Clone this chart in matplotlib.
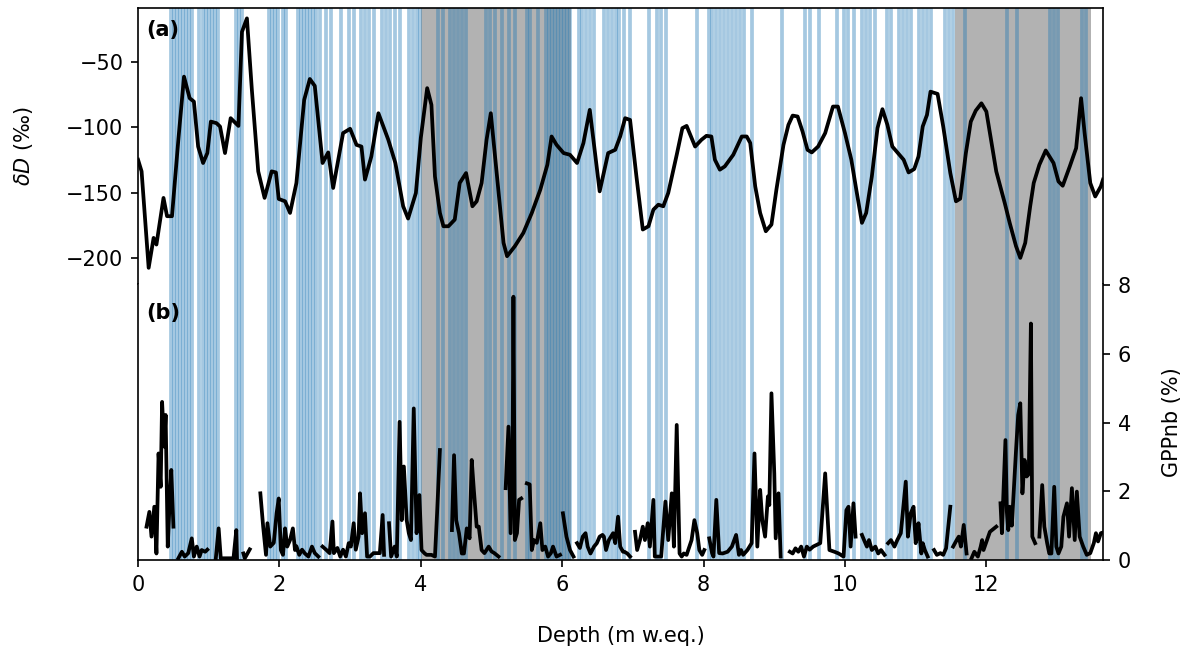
import numpy as np
import matplotlib.pyplot as plt

# panel (a): dD record
depth_a = [0.00, 0.05, 0.15, 0.22, 0.26, 0.36, 0.41, 0.48, 0.57, 0.65, 0.73, 0.79, 0.85, 0.92, 0.98,
           1.03, 1.11, 1.16, 1.23, 1.31, 1.42, 1.47, 1.54, 1.61, 1.70, 1.79, 1.89, 1.95, 1.99, 2.08,
           2.15, 2.24, 2.35, 2.43, 2.50, 2.61, 2.69, 2.76, 2.90, 3.00, 3.09, 3.16, 3.21, 3.30, 3.40,
           3.54, 3.64, 3.75, 3.82, 3.93, 4.00, 4.09, 4.15, 4.20, 4.27, 4.32, 4.39, 4.48, 4.55, 4.64,
           4.73, 4.79, 4.86, 4.93, 4.99, 5.05, 5.17, 5.22, 5.33, 5.45, 5.57, 5.69, 5.79, 5.85, 5.92,
           6.02, 6.11, 6.21, 6.30, 6.39, 6.53, 6.65, 6.75, 6.82, 6.89, 6.96, 7.05, 7.14, 7.22, 7.29,
           7.36, 7.43, 7.50, 7.62, 7.70, 7.76, 7.88, 7.97, 8.04, 8.11, 8.16, 8.23, 8.30, 8.42, 8.54,
           8.61, 8.66, 8.73, 8.80, 8.88, 8.96, 9.03, 9.13, 9.20, 9.26, 9.33, 9.40, 9.47, 9.53, 9.62,
           9.72, 9.83, 9.90, 10.00, 10.09, 10.16, 10.24, 10.30, 10.38, 10.46, 10.53, 10.60, 10.67,
           10.75, 10.83, 10.90, 10.98, 11.04, 11.10, 11.16, 11.21, 11.31, 11.39, 11.49, 11.57, 11.63,
           11.71, 11.78, 11.85, 11.93, 12.00, 12.14, 12.26, 12.33, 12.42, 12.48, 12.55, 12.62, 12.67,
           12.75, 12.84, 12.95, 13.02, 13.08, 13.18, 13.27, 13.34, 13.39, 13.47, 13.54, 13.62, 13.65]
dD = [-124.8, -133.7, -207.5, -184.6, -189.7, -154.0, -168.0, -168.0, -109.5, -61.2, -77.7, -80.3,
      -114.7, -127.3, -119.7, -95.6, -96.8, -99.4, -119.7, -93.0, -98.9, -26.9, -16.6, -71.4, -133.7,
      -154.0, -133.7, -134.5, -154.8, -156.6, -165.5, -142.6, -79.0, -63.0, -68.3, -127.3, -119.2,
      -146.4, -104.4, -101.1, -113.4, -114.7, -140.0, -122.3, -89.2, -109.5, -127.3, -160.4, -169.8,
      -150.3, -108.0, -70.0, -82.8, -137.6, -165.5, -175.7, -175.7, -170.6, -142.6, -135.0, -160.4,
      -156.6, -142.6, -109.5, -89.2, -122.3, -188.4, -198.6, -191.0, -180.8, -165.5, -147.7, -128.6,
      -107.0, -113.4, -119.7, -121.0, -127.3, -112.0, -86.6, -149.0, -119.7, -117.2, -107.0, -93.0,
      -94.3, -137.6, -178.2, -175.7, -163.0, -159.2, -160.4, -150.2, -121.0, -100.6, -98.9, -114.7,
      -109.5, -106.5, -107.0, -124.8, -132.4, -129.9, -121.0, -107.0, -107.0, -112.0, -145.1, -165.5,
      -179.5, -174.4, -147.7, -113.4, -98.1, -91.0, -91.7, -103.2, -117.2, -119.2, -114.7, -104.4,
      -84.1, -84.1, -104.4, -124.8, -147.7, -173.1, -165.5, -137.6, -100.6, -86.1, -98.1, -114.7,
      -119.7, -124.8, -134.5, -131.9, -122.3, -99.3, -90.5, -72.7, -74.4, -99.4, -134.9, -156.6,
      -154.6, -119.7, -95.6, -87.2, -81.6, -87.9, -133.7, -157.9, -173.1, -191.0, -199.9, -188.4,
      -160.4, -142.6, -128.6, -117.7, -127.3, -141.4, -144.7, -129.9, -115.9, -77.7, -104.4, -142.6,
      -152.9, -145.1, -140.0]

# panel (b): GPPnb, gaps are missing samples
nan = np.nan
depth_b = [0.12, 0.16, 0.19, 0.23, 0.26, 0.29, 0.32, 0.34, 0.37, 0.39, 0.42, 0.44, 0.47, 0.50, 0.53,
           0.57, 0.62, 0.66, 0.71, 0.76, 0.79, 0.83, 0.87, 0.90, 0.95, 0.98, 1.04,
           1.10, 1.14, 1.17, 1.23, 1.30, 1.35, 1.39, 1.40, 1.45,
           1.49, 1.51, 1.58, 1.65,
           1.73, 1.77, 1.81, 1.83, 1.87, 1.92, 1.96, 1.99, 2.02, 2.05, 2.08, 2.11, 2.15, 2.19, 2.22,
           2.24, 2.28, 2.32, 2.36, 2.41, 2.46, 2.50, 2.55, 2.58,
           2.61, 2.66, 2.71, 2.75, 2.77, 2.82, 2.86, 2.90, 2.94, 2.98, 3.01, 3.05, 3.08, 3.12, 3.14,
           3.17, 3.21, 3.24, 3.28, 3.33, 3.37, 3.42, 3.46, 3.48, 3.52,
           3.55, 3.58, 3.63, 3.66, 3.70, 3.73, 3.76, 3.80, 3.83, 3.86, 3.90, 3.94, 3.98, 4.01, 4.05,
           4.08, 4.15, 4.20, 4.23, 4.27, 4.35,
           4.44, 4.47, 4.50, 4.54, 4.58, 4.61, 4.65, 4.69, 4.72, 4.75, 4.79, 4.82, 4.86, 4.90, 4.96,
           5.00, 5.04, 5.10, 5.15,
           5.20, 5.24, 5.27, 5.30, 5.31, 5.33, 5.36, 5.39, 5.42, 5.46,
           5.50, 5.54, 5.57, 5.60, 5.64, 5.69, 5.72, 5.76, 5.80, 5.84, 5.87, 5.92, 5.97, 5.99,
           6.01, 6.06, 6.11, 6.16, 6.18,
           6.21, 6.25, 6.29, 6.33, 6.36, 6.40, 6.45, 6.49, 6.53, 6.57, 6.59, 6.62, 6.66, 6.72, 6.75,
           6.79, 6.82, 6.86, 6.88, 6.92, 6.96, 7.00,
           7.03, 7.06, 7.10, 7.14, 7.17, 7.21, 7.24, 7.29, 7.31, 7.40, 7.46, 7.50, 7.55, 7.58, 7.62,
           7.66, 7.69, 7.72, 7.76, 7.83, 7.87, 7.91, 7.94, 7.98, 8.01, 8.05,
           8.08, 8.12, 8.14, 8.18, 8.22, 8.27, 8.34, 8.40, 8.46, 8.50, 8.53, 8.56, 8.62, 8.68, 8.72,
           8.76, 8.80, 8.83, 8.87, 8.91, 8.93, 8.96, 9.00, 9.02, 9.06, 9.09, 9.15,
           9.22, 9.26, 9.30, 9.34, 9.38, 9.42, 9.46, 9.50, 9.55, 9.65, 9.72, 9.78, 9.85, 9.91, 9.98,
           10.02, 10.05, 10.08, 10.12, 10.15, 10.20,
           10.24, 10.27, 10.31, 10.34, 10.38, 10.43, 10.47, 10.51, 10.56, 10.58,
           10.61, 10.65, 10.70, 10.74, 10.79, 10.86, 10.89, 10.93, 10.97, 11.00, 11.02, 11.04, 11.08,
           11.10, 11.13, 11.17, 11.22,
           11.26, 11.30, 11.35, 11.39, 11.43, 11.49, 11.51,
           11.53, 11.58, 11.61, 11.64, 11.68, 11.72, 11.75,
           11.79, 11.83, 11.88, 11.92, 11.94, 11.96, 12.01, 12.05, 12.14, 12.17,
           12.20, 12.22, 12.27, 12.29, 12.31, 12.33, 12.36, 12.42, 12.45, 12.48, 12.51, 12.54, 12.57,
           12.60, 12.63, 12.65, 12.69, 12.72,
           12.75, 12.79, 12.82, 12.86, 12.89, 12.92, 12.96, 12.99, 13.02, 13.06, 13.09, 13.14, 13.17,
           13.21, 13.25, 13.28, 13.32, 13.37, 13.42, 13.47, 13.52, 13.55, 13.58, 13.62, 13.65]
gpp = [0.97, 1.40, 0.68, 1.55, 0.19, 3.10, 2.13, 4.60, 3.30, 4.22, 0.39, 1.36, 2.62, 0.97, nan,
       0.05, 0.24, 0.10, 0.20, 0.63, 0.10, 0.39, 0.10, 0.29, 0.24, 0.30, nan,
       0.05, 0.92, 0.05, 0.05, 0.05, 0.05, 0.87, 0.05, nan,
       0.19, 0.05, 0.31, nan,
       1.94, 0.97, 0.15, 1.07, 0.39, 0.50, 1.36, 1.79, 0.29, 0.15, 0.92, 0.39, 0.58, 0.92, 0.29,
       0.40, 0.15, 0.30, 0.19, 0.10, 0.39, 0.20, 0.10, nan,
       0.39, 0.30, 0.20, 1.12, 0.20, 0.35, 0.10, 0.30, 0.10, 0.49, 0.39, 1.07, 0.30, 0.68, 1.94,
       0.78, 1.36, 0.10, 0.10, 0.20, 0.20, 0.20, 1.31, 0.15, nan,
       1.07, 0.10, 0.39, 0.10, 4.02, 1.16, 2.72, 1.16, 0.78, 0.58, 4.41, 0.78, 1.89, 0.29, 0.20,
       0.15, 0.15, 0.10, 1.36, 3.20, nan,
       0.87, 3.05, 1.16, 0.78, 0.19, 0.19, 0.92, 0.63, 2.91, 2.04, 0.97, 0.97, 0.29, 0.20, 0.39,
       0.25, 0.20, 0.10, nan,
       2.09, 3.88, 0.78, 3.80, 7.66, 0.58, 0.78, 1.75, 1.79, nan,
       2.23, 2.20, 0.29, 0.58, 0.50, 1.07, 0.29, 0.39, 0.10, 0.20, 0.39, 0.10, 0.15, nan,
       1.36, 0.68, 0.29, 0.10, nan,
       0.49, 0.35, 0.68, 0.78, 0.39, 0.19, 0.39, 0.49, 0.68, 0.73, 0.68, 0.29, 0.58, 0.78, 0.49,
       1.26, 0.39, 0.24, 0.24, 0.19, 0.10, nan,
       0.82, 0.29, 0.58, 0.97, 0.58, 1.07, 0.39, 1.75, 0.10, 0.10, 1.70, 0.58, 1.94, 0.39, 3.93,
       0.19, 0.10, 0.19, 0.15, 0.58, 1.16, 0.78, 0.29, 0.15, 0.29, nan,
       0.63, 0.20, 0.10, 1.75, 0.20, 0.19, 0.24, 0.39, 0.73, 0.15, 0.29, 0.15, 0.29, 0.49, 3.10,
       0.39, 2.04, 1.16, 0.68, 1.85, 1.60, 4.85, 2.52, 0.63, 1.94, 0.10, nan,
       0.24, 0.19, 0.34, 0.24, 0.39, 0.10, 0.39, 0.30, 0.39, 0.49, 2.52, 0.29, 0.24, 0.19, 0.10,
       1.45, 1.55, 0.39, 1.65, 0.68, nan,
       0.73, 0.58, 0.39, 0.58, 0.29, 0.39, 0.19, 0.29, 0.15, nan,
       0.49, 0.58, 0.39, 0.58, 0.78, 2.28, 0.68, 1.36, 1.55, 0.49, 0.68, 1.07, 0.19,
       0.49, 0.29, 0.10, nan,
       0.29, 0.15, 0.20, 0.15, 0.34, 1.55, nan,
       0.39, 0.58, 0.68, 0.39, 1.02, 0.19, nan,
       0.05, 0.24, 0.10, 0.39, 0.58, 0.29, 0.58, 0.82, 0.97, nan,
       1.65, 0.78, 3.49, 1.40, 0.87, 1.55, 1.00, 3.20, 4.22, 4.56, 1.94, 2.91, 2.43,
       2.50, 6.88, 0.68, 0.49, nan,
       0.68, 2.18, 0.97, 0.49, 0.19, 0.19, 2.13, 0.39, 0.19, 0.39, 1.26, 1.65, 0.68,
       2.09, 0.58, 1.99, 0.68, 0.39, 0.15, 0.20, 0.49, 0.78, 0.54, 0.78, 0.80]

# layer positions (blue) and shaded sections (grey)
layer_depths = [0.47, 0.51, 0.55, 0.59, 0.64, 0.68, 0.72, 0.76,
                0.86, 0.92, 0.96, 1.00, 1.05, 1.09, 1.13,
                1.39, 1.43, 1.47,
                1.85, 1.90, 1.94, 1.98, 2.05, 2.09,
                2.26, 2.31, 2.35, 2.39, 2.43, 2.48, 2.52, 2.57,
                2.66, 2.73, 2.87, 2.98, 3.06,
                3.15, 3.21, 3.27, 3.34,
                3.45, 3.51, 3.56, 3.64, 3.71,
                3.83, 3.89, 3.95, 3.99,
                4.24, 4.31, 4.41, 4.47, 4.53, 4.58, 4.64,
                4.92, 4.98, 5.05, 5.15, 5.25, 5.33, 5.50, 5.54, 5.66,
                5.77, 5.81, 5.86, 5.90, 5.94, 5.98, 6.03, 6.07, 6.11,
                6.24, 6.28, 6.34, 6.39, 6.45, 6.59, 6.65, 6.70, 6.76, 6.80, 6.87, 6.96,
                7.23, 7.34, 7.40, 7.47, 7.91,
                8.08, 8.12, 8.18, 8.23, 8.29, 8.35, 8.40, 8.46, 8.51, 8.57, 8.68,
                9.11, 9.43, 9.50, 9.63, 9.89, 9.99, 10.04, 10.13,
                10.24, 10.30, 10.35, 10.42, 10.59, 10.65,
                10.76, 10.82, 10.88, 10.93, 11.05, 11.10, 11.16, 11.22,
                11.41, 11.47, 11.53, 11.70,
                12.29, 12.43, 12.90, 12.96, 13.01, 13.35, 13.41]
grey_start = [4.00, 11.56]
grey_end = [6.13, 13.48]

depth_b = np.array(depth_b, dtype=float)
gpp = np.array(gpp, dtype=float)

fig = plt.figure(figsize=(7.9, 4.32), dpi=150)
ax1 = fig.add_axes([0.1165, 0.5617, 0.8143, 0.4259])
ax2 = fig.add_axes([0.1165, 0.1358, 0.8143, 0.4259], sharex=ax1)

for ax in (ax1, ax2):
    for s, e in zip(grey_start, grey_end):
        ax.axvspan(s, e, color='k', alpha=0.3, lw=0, zorder=0)
    for d in layer_depths:
        ax.axvline(d, color='tab:blue', alpha=0.4, lw=1.8, zorder=1)

ax1.plot(depth_a, dD, color='k', lw=1.8, zorder=3)
ax2.plot(depth_b, gpp, color='k', lw=1.8, zorder=3)

ax1.set_xlim(0, 13.65)
ax1.set_ylim(-219.9, -8.7)
ax2.set_ylim(0, 8.03)

ax1.spines['bottom'].set_visible(False)
ax1.tick_params(axis='x', bottom=False, labelbottom=False)
ax1.set_yticks([-200, -150, -100, -50])
ax1.set_ylabel(r'$\delta D$ (‰)', labelpad=15)

ax2.spines['top'].set_visible(False)
ax2.yaxis.tick_right()
ax2.yaxis.set_label_position('right')
ax2.set_yticks([0, 2, 4, 6, 8])
ax2.set_ylabel('GPPnb (%)', labelpad=15)
ax2.set_xticks([0, 2, 4, 6, 8, 10, 12])
ax2.set_xlabel('Depth (m w.eq.)', labelpad=15)

ax1.text(0.008, 0.955, '(a)', transform=ax1.transAxes, fontweight='bold', va='top')
ax2.text(0.008, 0.93, '(b)', transform=ax2.transAxes, fontweight='bold', va='top')

fig.savefig('out.png', dpi=150)
